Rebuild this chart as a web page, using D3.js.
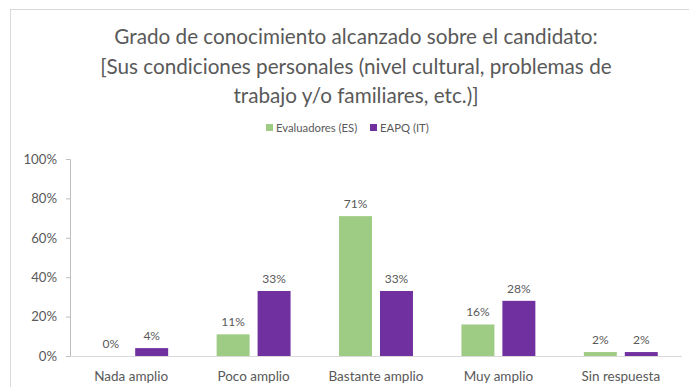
<!DOCTYPE html>
<html><head><meta charset="utf-8">
<script src="https://cdn.jsdelivr.net/npm/d3@7/dist/d3.min.js"></script>
<style>
html,body{margin:0;padding:0;background:#fff;}
svg{display:block;font-family:Lato,"Open Sans",sans-serif;}
</style></head>
<body><svg id="c" width="689" height="387"></svg>
<script>
const categories = ["Nada amplio","Poco amplio","Bastante amplio","Muy amplio","Sin respuesta"];
const seriesNames = ["Evaluadores (ES)","EAPQ (IT)"];
const evaluadores = [0, 11, 71, 16, 2];
const eapq = [4, 33, 33, 28, 2];
const yTicks = [0, 20, 40, 60, 80, 100];
const titleLines = ["Grado de conocimiento alcanzado sobre el candidato:",
  "[Sus condiciones personales (nivel cultural, problemas de",
  "trabajo y/o familiares, etc.)]"];
const colors = ["#9FCC84","#7030A0"];

const svg = d3.select("#c");
const W = 689, H = 387;
const m = {left:70, right:7, top:159, bottom:31};

// chart frame
svg.append("rect").attr("x",10.5).attr("y",9.5).attr("width",W+10).attr("height",H+10)
  .attr("fill","#fff").attr("stroke","#d9d9d9");

// title
svg.append("g").selectAll("text").data(titleLines).join("text")
  .attr("x",356).attr("y",(d,i)=>44+i*29.5)
  .attr("text-anchor","middle").attr("fill","#595959")
  .attr("font-size","20.7px").text(d=>d);

const x0 = d3.scaleBand().domain(categories).range([m.left, W-m.right]).paddingInner(0.396).paddingOuter(0.198);
const x1 = d3.scaleBand().domain(seriesNames).range([0, x0.bandwidth()]).paddingInner(0.195);
const y = d3.scaleLinear().domain([0,100]).range([H-m.bottom, m.top]);

// legend
const lg = svg.append("g").attr("font-size","11.3px").attr("fill","#595959");
const legX = [266, 370];
seriesNames.forEach((s,i)=>{
  lg.append("rect").attr("x",legX[i]).attr("y",124).attr("width",7).attr("height",7).attr("fill",colors[i]);
  lg.append("text").attr("x",legX[i]+10).attr("y",131.5).attr("fill","#595959").text(s);
});

// y axis
const yAxis = d3.axisLeft(y).tickValues(yTicks).tickFormat(d=>d+"%").tickSize(4).tickPadding(9);
const ga = svg.append("g").attr("transform",`translate(${m.left},0)`).call(yAxis);
ga.select(".domain").attr("stroke","#bfbfbf");
ga.selectAll(".tick line").attr("stroke","#bfbfbf");
ga.selectAll(".tick text").attr("fill","#595959").attr("font-size","13.2px").attr("font-family","Lato,sans-serif");

// x baseline
svg.append("line").attr("x1",m.left).attr("x2",W-m.right).attr("y1",y(0)+0.5).attr("y2",y(0)+0.5)
  .attr("stroke","#d9d9d9");

// bars
const data = categories.map((c,i)=>({cat:c, vals:[evaluadores[i], eapq[i]]}));
const groups = svg.append("g").selectAll("g").data(data).join("g")
  .attr("transform",d=>`translate(${x0(d.cat)},0)`);
groups.selectAll("rect").data(d=>d.vals.map((v,j)=>({s:seriesNames[j],v,j}))).join("rect")
  .attr("x",d=>x1(d.s)).attr("width",x1.bandwidth())
  .attr("y",d=>y(d.v)).attr("height",d=>y(0)-y(d.v)).attr("fill",d=>colors[d.j]);
groups.selectAll("text").data(d=>d.vals.map((v,j)=>({s:seriesNames[j],v,j}))).join("text")
  .attr("x",d=>x1(d.s)+x1.bandwidth()/2).attr("y",d=>y(d.v)-8)
  .attr("text-anchor","middle").attr("font-size","12px").attr("fill","#595959")
  .text(d=>d.v+"%");

// x labels
svg.append("g").selectAll("text").data(categories).join("text")
  .attr("x",d=>x0(d)+x0.bandwidth()/2).attr("y",381)
  .attr("text-anchor","middle").attr("font-size","13.5px").attr("fill","#595959").text(d=>d);
</script></body></html>
